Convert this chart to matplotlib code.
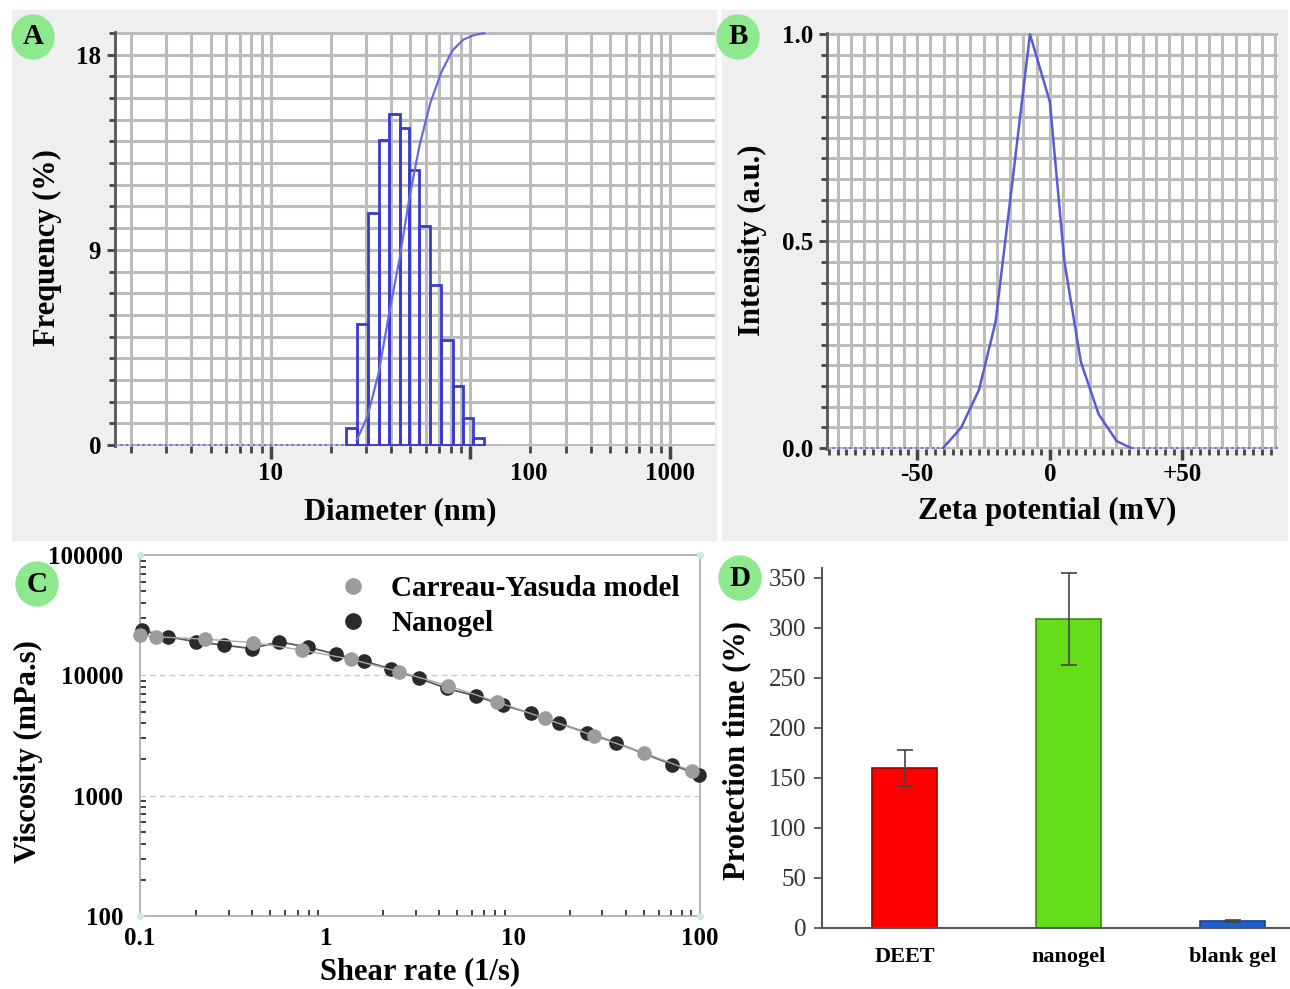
import matplotlib
matplotlib.use("Agg")
import matplotlib.pyplot as plt
import numpy as np
from matplotlib.patches import Ellipse, Rectangle
from matplotlib.ticker import MultipleLocator, LogLocator, NullFormatter, FixedLocator
import matplotlib.transforms as mtransforms

plt.rcParams['font.family'] = ['Liberation Serif', 'DejaVu Serif']
plt.rcParams['font.weight'] = 'bold'

# ---- panel A: size distribution ----
bin_edges = [23.9, 27.0, 30.7, 34.7, 39.0, 44.2, 49.5, 55.6, 63.1, 71.4, 81.6, 92.3, 103.5, 117.5]
freq = [0.8, 5.6, 10.7, 14.05, 15.25, 14.6, 12.7, 10.1, 7.37, 4.84, 2.72, 1.23, 0.34]
cum_d = [26.9, 30.5, 34.7, 38.9, 44.2, 49.5, 55.6, 63.1, 71.6, 81.3, 92.3, 103.5, 117.5]
cum_y = [0.2, 1.3, 3.3, 5.9, 8.6, 11.4, 13.8, 15.8, 17.2, 18.2, 18.7, 18.9, 19.0]
zero_d = [1.66, 23.9]
a_xlabels = ['10', '100', '1000']
a_xlabel_pos = [10, 197, 1000]

# ---- panel B: zeta potential ----
zeta = [-40.3, -33.5, -26.7, -20.5, -14.3, -7.5, 0.0, 5.5, 11.7, 18.4, 25.2, 30.8]
intensity = [0.0, 0.049, 0.141, 0.304, 0.634, 1.0, 0.837, 0.45, 0.208, 0.082, 0.017, 0.0]
zeta_zero_left = [-84, -40.3]
zeta_zero_right = [30.8, 86]

# ---- panel C: viscosity ----
nano_rate = [0.102, 0.141, 0.2, 0.282, 0.396, 0.556, 0.798, 1.12, 1.585, 2.22, 3.12, 4.43,
             6.31, 8.85, 12.5, 17.6, 24.9, 35.5, 71.1, 98.2]
nano_visc = [23800, 20900, 19000, 17800, 16700, 19000, 17100, 15000, 13100, 11300, 9430, 7780,
             6720, 5650, 4820, 3980, 3330, 2750, 1815, 1480]
cy_rate = [0.1, 0.122, 0.223, 0.404, 0.738, 1.35, 2.45, 4.49, 8.15, 14.8, 27.2, 50.1, 90.3]
cy_visc = [21500, 20900, 20000, 18700, 16200, 13600, 10700, 8190, 6030, 4380, 3130, 2270, 1607]

# ---- panel D: protection time ----
groups = ['DEET', 'nanogel', 'blank gel']
protection = [160, 309, 7]
protection_err = [18, 46, 1]
bar_colors = ['#ff0000', '#66dd1a', '#1f5fd0']
bar_edges = ['#a00000', '#3f8a12', '#1a3f90']

W, H = 1290, 989
fig = plt.figure(figsize=(W / 100, H / 100), dpi=100)
fig.patch.set_facecolor('white')


def fax(x0, y0, x1, y1):
    return [x0 / W, 1 - y1 / H, (x1 - x0) / W, (y1 - y0) / H]


# grey panel backgrounds for A and B
fig.patches.append(Rectangle((12 / W, 1 - 540 / H), (716 - 12) / W, 530 / H,
                             transform=fig.transFigure, color='#efefef', zorder=-5))
fig.patches.append(Rectangle((722 / W, 1 - 540 / H), (1287 - 722) / W, 530 / H,
                             transform=fig.transFigure, color='#efefef', zorder=-5))

grid_c = '#bcbcbc'
blue = '#3a3ad0'

# ================= A =================
axA = fig.add_axes(fax(115, 32, 715, 446))
axA.set_xscale('log')
axA.set_xlim(1.66, 1680)
axA.set_ylim(-0.05, 19.05)
axA.bar(bin_edges[:-1], freq, width=np.diff(bin_edges), align='edge', fill=False,
        edgecolor=blue, linewidth=2, zorder=3)
axA.plot(cum_d, cum_y, color='#6a6ae0', lw=1.6, zorder=4)
axA.plot(zero_d, [0, 0], color='#6a6ae0', lw=1.5, ls=':', zorder=4)
axA.set_yticks([0, 9, 18])
axA.yaxis.set_minor_locator(MultipleLocator(1))
axA.xaxis.set_major_locator(FixedLocator([10, 100, 1000]))
axA.xaxis.set_minor_locator(LogLocator(base=10, subs=np.arange(2, 10), numticks=20))
axA.xaxis.set_major_formatter(NullFormatter())
axA.xaxis.set_minor_formatter(NullFormatter())
axA.grid(which='both', color=grid_c, lw=2.2, zorder=1)
for s in ['top', 'right', 'bottom']:
    axA.spines[s].set_visible(False)
axA.spines['left'].set_color('#555555')
axA.spines['left'].set_linewidth(2)
axA.tick_params(axis='y', which='major', length=6, width=2, color='#444', labelsize=18, pad=4)
axA.tick_params(axis='y', which='minor', length=4.5, width=2, color='#444')
axA.tick_params(axis='x', which='major', length=9, width=2.5, color='#444')
axA.tick_params(axis='x', which='minor', length=5, width=2, color='#444')
for lbl in axA.get_yticklabels():
    lbl.set_fontweight('bold')
tr = mtransforms.blended_transform_factory(axA.transData, fig.transFigure)
for p, t in zip(a_xlabel_pos, a_xlabels):
    axA.text(p, 1 - 473 / H, t, transform=tr, ha='center', va='center', fontsize=18,
             fontweight='bold')
fig.text(400 / W, 1 - 512 / H, 'Diameter (nm)', ha='center', va='center', fontsize=22,
         fontweight='bold')
fig.text(47 / W, 1 - 248 / H, 'Frequency (%)', ha='center', va='center', fontsize=22,
         fontweight='bold', rotation=90)

# ================= B =================
axB = fig.add_axes(fax(827, 33, 1278, 449))
axB.set_xlim(-84, 86)
axB.set_ylim(-0.002, 1.003)
axB.plot(zeta, intensity, color='#5a5ad8', lw=1.8, zorder=4)
axB.plot(zeta_zero_left, [0, 0], color='#6a6ae0', lw=1.5, ls=':', zorder=4)
axB.plot(zeta_zero_right, [0, 0], color='#6a6ae0', lw=1.5, ls=':', zorder=4)
axB.set_yticks([0, 0.5, 1.0])
axB.set_yticklabels(['0.0', '0.5', '1.0'])
axB.yaxis.set_minor_locator(MultipleLocator(0.05))
axB.set_xticks([-50, 0, 50])
axB.set_xticklabels(['-50', '0', '+50'])
axB.xaxis.set_minor_locator(MultipleLocator(10 / 3))
axB.grid(which='both', axis='y', color=grid_c, lw=2.2, zorder=1)
axB.vlines(np.arange(-80, 90, 5), 0, 1.0, color=grid_c, lw=2.2, zorder=1)
for s in ['top', 'right', 'bottom']:
    axB.spines[s].set_visible(False)
axB.spines['left'].set_color('#555555')
axB.spines['left'].set_linewidth(2)
axB.tick_params(axis='y', which='major', length=6, width=2, color='#444', labelsize=18, pad=4)
axB.tick_params(axis='y', which='minor', length=4.5, width=2, color='#444')
axB.tick_params(axis='x', which='major', length=8, width=2.5, color='#444', labelsize=18, pad=2)
axB.tick_params(axis='x', which='minor', length=4, width=2, color='#444')
for lbl in axB.get_yticklabels() + axB.get_xticklabels():
    lbl.set_fontweight('bold')
fig.text(1047 / W, 1 - 511 / H, 'Zeta potential (mV)', ha='center', va='center', fontsize=22,
         fontweight='bold')
fig.text(752 / W, 1 - 240 / H, 'Intensity (a.u.)', ha='center', va='center', fontsize=22,
         fontweight='bold', rotation=90)

# ================= C =================
axC = fig.add_axes(fax(140, 555, 700, 916))
axC.set_xscale('log')
axC.set_yscale('log')
axC.set_xlim(0.1, 100)
axC.set_ylim(100, 100000)
axC.plot(nano_rate, nano_visc, color='#5a5a5a', lw=1.3, marker='o', ms=9.5,
         mfc='#2a2a2a', mec='#2a2a2a', zorder=3, label='Nanogel', clip_on=False)
axC.plot(cy_rate, cy_visc, color='#a8a8a8', lw=1.0, marker='o', ms=9.5,
         mfc='#9c9c9c', mec='#9c9c9c', zorder=4, label='Carreau-Yasuda model', clip_on=False)
for v in [1000, 10000]:
    axC.axhline(v, color='#c8c8c8', lw=1, ls=(0, (4, 3)), zorder=1)
for s in axC.spines.values():
    s.set_color('#a8a8a8')
    s.set_linewidth(1.2)
axC.plot([0, 0, 1, 1], [0, 1, 0, 1], 'o', ms=4, color='#cfe6ee', transform=axC.transAxes,
         clip_on=False, zorder=5)
axC.xaxis.set_major_locator(FixedLocator([0.1, 1, 10, 100]))
axC.set_xticklabels(['0.1', '1', '10', '100'])
axC.yaxis.set_major_locator(FixedLocator([100, 1000, 10000, 100000]))
axC.set_yticklabels(['100', '1000', '10000', '100000'])
axC.xaxis.set_minor_locator(LogLocator(base=10, subs=np.arange(2, 10), numticks=20))
axC.yaxis.set_minor_locator(LogLocator(base=10, subs=np.arange(2, 10), numticks=20))
axC.xaxis.set_minor_formatter(NullFormatter())
axC.yaxis.set_minor_formatter(NullFormatter())
axC.tick_params(axis='x', which='major', direction='in', length=0, labelsize=18, pad=8)
axC.tick_params(axis='y', which='major', direction='in', length=0, labelsize=18, pad=12)
axC.tick_params(which='minor', direction='in', length=4, width=1.3, color='#333')
for lbl in axC.get_yticklabels() + axC.get_xticklabels():
    lbl.set_fontweight('bold')
h, l = axC.get_legend_handles_labels()
leg = axC.legend(h[::-1], l[::-1], loc='upper right', bbox_to_anchor=(1.0, 1.0), frameon=False,
                 prop={'size': 21, 'weight': 'bold'}, handlelength=0.8, handletextpad=0.9,
                 labelspacing=0.25, borderaxespad=0.3)
for lh in leg.legend_handles:
    lh.set_linestyle('none')
    lh.set_markersize(11)
fig.text(420 / W, 1 - 972 / H, 'Shear rate (1/s)', ha='center', va='center', fontsize=22,
         fontweight='bold')
fig.text(28 / W, 1 - 752 / H, 'Viscosity (mPa.s)', ha='center', va='center', fontsize=22,
         fontweight='bold', rotation=90)

# ================= D =================
axD = fig.add_axes(fax(822, 568, 1290, 928))
xpos = np.arange(len(groups))
axD.bar(xpos, protection, width=0.4, color=bar_colors, edgecolor=bar_edges, linewidth=1.2,
        zorder=2)
axD.errorbar(xpos, protection, yerr=protection_err, fmt='none', ecolor='#444444', elinewidth=1.2,
             capsize=6, capthick=1.2, zorder=3)
axD.set_xlim(-0.503, 2.35)
axD.set_ylim(0, 360)
axD.set_yticks(np.arange(0, 351, 50))
axD.set_xticks(xpos)
axD.set_xticklabels(groups)
for s in ['top', 'right']:
    axD.spines[s].set_visible(False)
for s in ['left', 'bottom']:
    axD.spines[s].set_color('#555555')
    axD.spines[s].set_linewidth(1.5)
axD.tick_params(axis='y', length=6, width=1.3, color='#555', labelsize=18, pad=5,
                labelcolor='#333')
axD.tick_params(axis='x', length=0, labelsize=16, pad=14)
for lbl in axD.get_yticklabels():
    lbl.set_fontweight('normal')
for lbl in axD.get_xticklabels():
    lbl.set_fontweight('bold')
fig.text(737 / W, 1 - 750 / H, 'Protection time (%)', ha='center', va='center', fontsize=22,
         fontweight='bold', rotation=90)

# ---- panel letters ----
for letter, (cx, cy) in zip('ABCD', [(33, 37), (738, 37), (37, 584), (740, 578)]):
    fig.patches.append(Ellipse((cx / W, 1 - cy / H), 42 / W, 44 / H, transform=fig.transFigure,
                               color='#8ee88e', zorder=10))
    fig.text(cx / W, 1 - cy / H, letter, ha='center', va='center', fontsize=21,
             fontweight='bold', zorder=11)

fig.savefig('out.png', dpi=100)
